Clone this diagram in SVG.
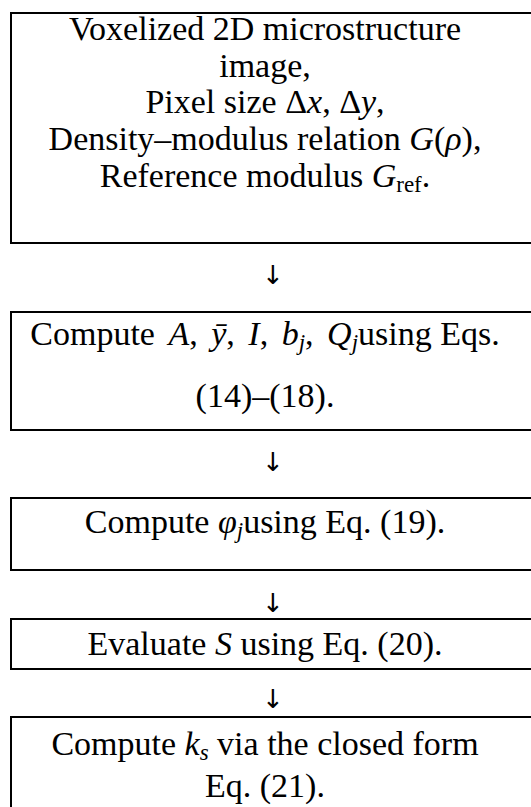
<svg xmlns="http://www.w3.org/2000/svg" width="531" height="807" viewBox="0 0 531 807">
<style>
.box{fill:#fff;stroke:#000;stroke-width:2}
.t{font-family:"Liberation Serif","Times New Roman",serif;font-size:34px;fill:#000;text-anchor:middle}
.m{font-style:italic}
.sub{font-size:23px}
.arr{font-family:"DejaVu Sans","Liberation Sans",sans-serif;font-size:26px;fill:#000;text-anchor:middle}
</style>
<rect width="531" height="807" fill="#fff"/>
<g id="connectors">
<text class="arr" x="273" y="284">↓</text>
<text class="arr" x="273" y="471">↓</text>
<text class="arr" x="273" y="612">↓</text>
<text class="arr" x="273" y="708">↓</text>
</g>
<g id="node1">
<rect class="box" x="11" y="13" width="540" height="230"/>
<text class="t" x="265" y="40">Voxelized 2D microstructure</text>
<text class="t" x="265" y="77">image,</text>
<text class="t" x="265" y="113">Pixel size  Δ<tspan class="m">x</tspan>, Δ<tspan class="m">y</tspan>,</text>
<text class="t" x="265" y="150">Density–modulus relation  <tspan class="m">G</tspan>(<tspan class="m">ρ</tspan>),</text>
<text class="t" x="265" y="187">Reference modulus  <tspan class="m">G</tspan><tspan class="sub" dy="5">ref</tspan><tspan dy="-5">.</tspan></text>
</g>
<g id="node2">
<rect class="box" x="11" y="312" width="540" height="118"/>
<text class="t" x="265" y="345" word-spacing="5">Compute  <tspan class="m">A</tspan>,  <tspan class="m">ȳ</tspan>,  <tspan class="m">I</tspan>,  <tspan class="m">b</tspan><tspan class="sub m" dy="5">j</tspan><tspan dy="-5">,  </tspan><tspan class="m">Q</tspan><tspan class="sub m" dy="5">j</tspan><tspan dy="-5" word-spacing="0">using Eqs.</tspan></text>
<text class="t" x="265" y="407">(14)–(18).</text>
</g>
<g id="node3">
<rect class="box" x="11" y="498" width="540" height="72"/>
<text class="t" x="265" y="533">Compute  <tspan class="m">φ</tspan><tspan class="sub m" dy="5">j</tspan><tspan dy="-5">using Eq. (19).</tspan></text>
</g>
<g id="node4">
<rect class="box" x="11" y="619" width="540" height="50"/>
<text class="t" x="265" y="655">Evaluate  <tspan class="m">S</tspan>  using Eq. (20).</text>
</g>
<g id="node5">
<rect class="box" x="11" y="717" width="540" height="120"/>
<text class="t" x="265" y="755">Compute  <tspan class="m">k</tspan><tspan class="sub m" dy="5">s</tspan><tspan dy="-5">  via the closed form</tspan></text>
<text class="t" x="265" y="797">Eq. (21).</text>
</g>
</svg>
